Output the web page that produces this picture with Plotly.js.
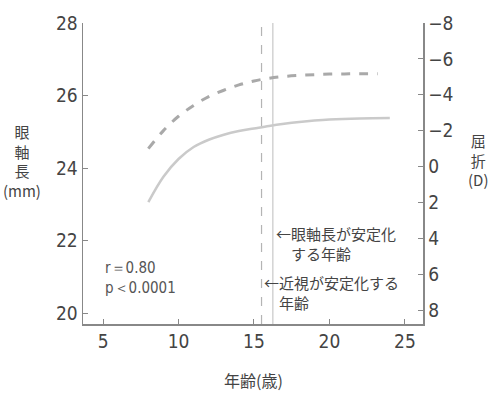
<!DOCTYPE html>
<html>
<head>
<meta charset="utf-8">
<script src="https://cdn.plot.ly/plotly-3.0.1.min.js"></script>
<style>
  html, body { margin: 0; padding: 0; background: #fff; }
  #chart { width: 500px; height: 400px; }
</style>
</head>
<body>
<div id="chart"></div>
<script>
// 眼軸長 (mm), left axis
const ageAxial = [8, 9, 10, 11, 12, 13, 14, 15, 16, 17, 18, 19, 20, 22, 24];
const axialLength = [23.06, 23.76, 24.25, 24.58, 24.78, 24.92, 25.02, 25.09, 25.16, 25.22, 25.27, 25.31, 25.34, 25.37, 25.38];

// 屈折 (D), right axis (reversed)
const ageRefraction = [8, 9, 10, 11, 12, 13, 14, 15, 16, 17, 18, 19, 20, 21, 22, 23.2];
const refraction = [-1.0, -2.0, -2.8, -3.4, -3.9, -4.25, -4.55, -4.77, -4.92, -5.02, -5.08, -5.12, -5.15, -5.16, -5.17, -5.17];

// stabilisation ages
const ageMyopiaStable = 15.5;
const ageAxialStable = 16.25;

const xTicks = [5, 10, 15, 20, 25];
const leftTicks = [20, 22, 24, 26, 28];
const rightTicks = [-8, -6, -4, -2, 0, 2, 4, 6, 8];

const tickFont = { family: "DejaVu Sans Condensed", size: 19, color: "#444" };
const jpFont = { family: "Noto Sans CJK JP", size: 15, color: "#444" };
const titleFont = { family: "Noto Sans CJK JP", size: 15, color: "#444" };

const data = [
  {
    type: "scatter",
    mode: "lines",
    x: ageAxial,
    y: axialLength,
    line: { color: "#cacaca", width: 2.5, shape: "spline" },
    hoverinfo: "skip"
  },
  {
    type: "scatter",
    mode: "lines",
    x: ageRefraction,
    y: refraction,
    yaxis: "y2",
    line: { color: "#a9a9a9", width: 3, dash: "dash", shape: "spline" },
    hoverinfo: "skip"
  },
  {
    type: "scatter",
    mode: "lines",
    x: [ageMyopiaStable, ageMyopiaStable],
    y: [19.7, 28],
    line: { color: "#b4b4b4", width: 1.2, dash: "dash" },
    hoverinfo: "skip"
  },
  {
    type: "scatter",
    mode: "lines",
    x: [ageAxialStable, ageAxialStable],
    y: [19.7, 28],
    line: { color: "#cccccc", width: 1.3 },
    hoverinfo: "skip"
  }
];

const layout = {
  width: 500,
  height: 400,
  margin: { l: 83, r: 77, t: 23, b: 76 },
  paper_bgcolor: "#fff",
  plot_bgcolor: "#fff",
  showlegend: false,
  xaxis: {
    range: [3.67, 26.2],
    tickvals: xTicks,
    ticks: "inside",
    ticklen: 5,
    tickcolor: "#888",
    showline: true,
    linecolor: "#888",
    linewidth: 1.5,
    showgrid: false,
    zeroline: false,
    tickfont: tickFont,
    fixedrange: true
  },
  yaxis: {
    range: [19.7, 28],
    tickvals: leftTicks,
    ticks: "inside",
    ticklen: 5,
    tickcolor: "#888",
    showline: true,
    linecolor: "#888",
    linewidth: 1.5,
    showgrid: false,
    zeroline: false,
    tickfont: tickFont,
    fixedrange: true
  },
  yaxis2: {
    overlaying: "y",
    side: "right",
    range: [8.78, -8],
    tickvals: rightTicks,
    ticktext: rightTicks.map(v => v < 0 ? "\u2212" + Math.abs(v) : String(v)),
    ticks: "inside",
    ticklen: 5,
    tickcolor: "#888",
    showline: true,
    linecolor: "#888",
    linewidth: 1.5,
    showgrid: false,
    zeroline: false,
    tickfont: tickFont,
    fixedrange: true
  },
  annotations: [
    { xref: "paper", yref: "paper", x: -0.18, y: 0.54, xanchor: "center", yanchor: "middle",
      text: "眼<br>軸<br>長<br>(mm)", showarrow: false, font: titleFont },
    { xref: "paper", yref: "paper", x: 1.162, y: 0.545, xanchor: "center", yanchor: "middle",
      text: "屈<br>折<br>(D)", showarrow: false, font: titleFont },
    { xref: "paper", yref: "paper", x: 0.5, y: -0.14, xanchor: "center", yanchor: "top",
      text: "年齢(歳)", showarrow: false, font: { family: "Noto Sans CJK JP", size: 16, color: "#444" } },
    { xref: "x", yref: "y", x: 5.0, y: 20.97, xanchor: "left", yanchor: "middle",
      text: "r＝0.80<br>p＜0.0001", showarrow: false, align: "left",
      font: { family: "DejaVu Sans Condensed", size: 15, color: "#555" } },
    { xref: "x", yref: "y", x: ageAxialStable + 0.05, y: 21.93, xanchor: "left", yanchor: "middle",
      text: "←眼軸長が安定化<br>　する年齢", showarrow: false, align: "left", font: jpFont },
    { xref: "x", yref: "y", x: ageMyopiaStable + 0.05, y: 20.58, xanchor: "left", yanchor: "middle",
      text: "←近視が安定化する<br>　年齢", showarrow: false, align: "left", font: jpFont }
  ]
};

Plotly.newPlot("chart", data, layout, { displayModeBar: false, staticPlot: true });
</script>
</body>
</html>
